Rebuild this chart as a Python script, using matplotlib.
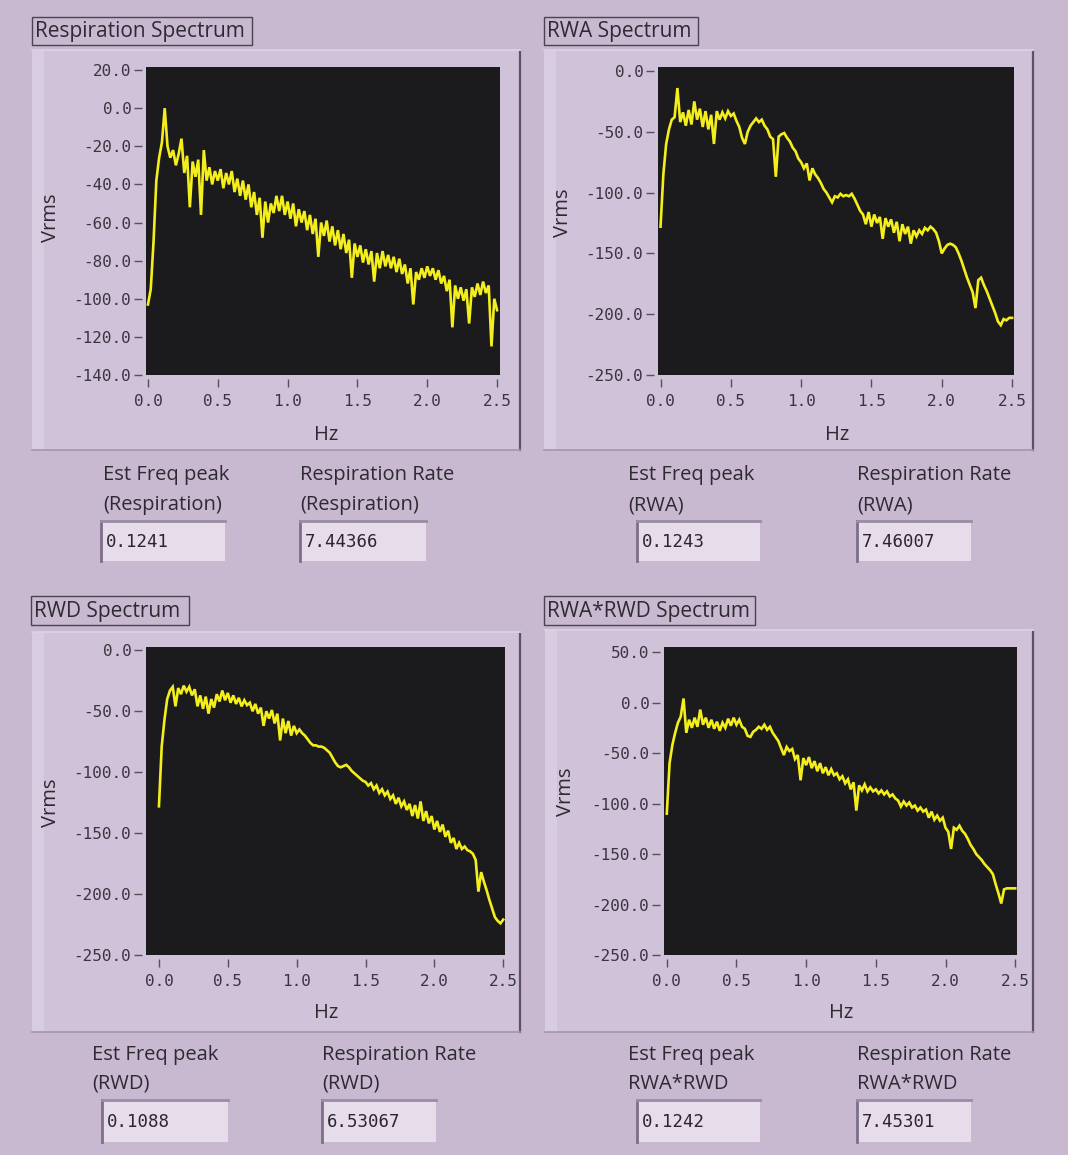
import numpy as np
import matplotlib.pyplot as plt
from matplotlib.patches import Rectangle

plt.rcParams['axes.unicode_minus'] = False
plt.rcParams['font.family'] = ['DejaVu Sans Mono']

W, H = 1068, 1155

# spectra, 0.02 Hz steps from 0 to 2.5 Hz (values in dB Vrms)
freq_hz = np.linspace(0.0, 2.5, 126)

resp_vrms = [
    -103, -95, -70, -38, -26, -18, 0, -20, -26, -22,
    -30, -24, -16, -34, -25, -52, -28, -36, -27, -56,
    -22, -38, -31, -40, -33, -38, -32, -42, -34, -40,
    -33, -44, -37, -46, -38, -48, -40, -52, -44, -56,
    -47, -68, -49, -60, -50, -55, -46, -54, -46, -56,
    -49, -58, -50, -62, -53, -60, -54, -64, -56, -66,
    -58, -78, -60, -67, -59, -70, -62, -72, -64, -74,
    -66, -76, -69, -89, -71, -78, -72, -81, -74, -82,
    -75, -91, -76, -84, -75, -83, -77, -84, -78, -86,
    -79, -87, -82, -92, -84, -103, -86, -90, -84, -89,
    -83, -88, -84, -90, -85, -92, -88, -96, -90, -115,
    -93, -100, -94, -101, -95, -113, -94, -99, -92, -98,
    -91, -97, -93, -125, -100, -106,
]

rwa_vrms = [
    -128, -85, -60, -48, -40, -38, -14, -42, -34, -45,
    -32, -44, -25, -40, -31, -46, -33, -48, -36, -60,
    -33, -40, -34, -39, -33, -37, -35, -41, -46, -55,
    -60, -50, -45, -42, -39, -42, -40, -45, -48, -54,
    -56, -87, -54, -52, -51, -55, -58, -63, -66, -72,
    -75, -80, -76, -90, -80, -85, -88, -92, -97, -100,
    -104, -108, -103, -104, -101, -103, -102, -103, -101, -105,
    -110, -115, -118, -126, -116, -128, -118, -125, -120, -138,
    -121, -128, -122, -133, -124, -140, -126, -134, -128, -142,
    -131, -136, -131, -134, -129, -131, -128, -130, -133, -140,
    -150, -146, -143, -142, -143, -145, -150, -156, -163, -170,
    -176, -182, -195, -172, -170, -176, -181, -187, -193, -199,
    -206, -209, -204, -205, -203, -203,
]

rwd_vrms = [
    -128, -79, -57, -40, -33, -30, -46, -31, -36, -29,
    -34, -30, -37, -32, -46, -37, -48, -38, -52, -40,
    -47, -36, -42, -33, -41, -35, -43, -37, -44, -39,
    -46, -41, -45, -43, -50, -44, -52, -47, -62, -50,
    -56, -49, -60, -52, -74, -56, -68, -58, -70, -62,
    -68, -65, -68, -70, -73, -76, -78, -78, -79, -79,
    -80, -82, -84, -88, -92, -95, -96, -95, -94, -96,
    -99, -101, -103, -105, -107, -108, -111, -109, -114, -111,
    -117, -114, -119, -116, -122, -119, -126, -121, -128, -124,
    -131, -126, -136, -127, -138, -124, -140, -132, -142, -136,
    -147, -140, -149, -143, -153, -148, -158, -154, -163, -158,
    -163, -161, -164, -165, -167, -172, -198, -182, -190, -197,
    -205, -212, -219, -222, -224, -221,
]

rwa_rwd_vrms = [
    -110, -60, -42, -30, -20, -14, 4, -30, -17, -25,
    -15, -24, -7, -22, -15, -25, -17, -26, -19, -28,
    -20, -25, -16, -23, -15, -22, -17, -24, -26, -33,
    -34, -29, -27, -24, -26, -22, -27, -24, -30, -34,
    -38, -45, -52, -44, -48, -46, -56, -52, -77, -55,
    -62, -54, -65, -58, -68, -60, -70, -64, -72, -66,
    -72, -70, -76, -73, -80, -76, -86, -79, -107, -82,
    -87, -81, -88, -84, -88, -86, -90, -87, -91, -88,
    -93, -91, -95, -97, -103, -98, -102, -99, -104, -102,
    -107, -104, -108, -106, -114, -108, -116, -112, -117, -114,
    -124, -128, -145, -124, -126, -122, -127, -130, -135, -141,
    -145, -150, -153, -156, -160, -163, -166, -170, -180, -189,
    -199, -185, -184, -184, -184, -184,
]

titles = ["Respiration Spectrum", "RWA Spectrum", "RWD Spectrum", "RWA*RWD Spectrum"]
series = [resp_vrms, rwa_vrms, rwd_vrms, rwa_rwd_vrms]
x_ticks = [0.0, 0.5, 1.0, 1.5, 2.0, 2.5]
y_ticks = [
    [20, 0, -20, -40, -60, -80, -100, -120, -140],
    [0, -50, -100, -150, -200, -250],
    [0, -50, -100, -150, -200, -250],
    [50, 0, -50, -100, -150, -200, -250],
]
source_names = ["(Respiration)", "(RWA)", "(RWD)", "RWA*RWD"]
est_freq_peak = ["0.1241", "0.1243", "0.1088", "0.1242"]
resp_rate = ["7.44366", "7.46007", "6.53067", "7.45301"]

# pixel layout of each LabVIEW panel
layout = [
    dict(frame=(32, 50, 520, 450), title=(32, 17, 252, 45), ax=(146, 67, 500, 375),
         xlim=(-0.014, 2.521), ylim=(-140, 21.6), vrms=(51, 218), hz=(326, 435),
         lab_x=(103, 300), lab_y=(475, 505), boxes=((101, 225), (300, 426)), box_y=(521, 561)),
    dict(frame=(544, 50, 1033, 450), title=(544, 17, 698, 45), ax=(658, 67, 1014, 375),
         xlim=(-0.018, 2.514), ylim=(-250, 3.3), vrms=(563, 213), hz=(837, 435),
         lab_x=(628, 857), lab_y=(475, 505), boxes=((637, 760), (857, 971)), box_y=(521, 561)),
    dict(frame=(32, 632, 520, 1032), title=(31, 596, 189, 625), ax=(146, 647, 505, 955),
         xlim=(-0.094, 2.513), ylim=(-250, 2.7), vrms=(51, 803), hz=(326, 1013),
         lab_x=(92, 322), lab_y=(1055, 1084), boxes=((102, 228), (322, 436)), box_y=(1100, 1142)),
    dict(frame=(545, 630, 1033, 1032), title=(544, 596, 755, 625), ax=(664, 647, 1017, 955),
         xlim=(-0.02, 2.513), ylim=(-250, 55), vrms=(566, 792), hz=(841, 1013),
         lab_x=(628, 857), lab_y=(1055, 1084), boxes=((637, 760), (857, 971)), box_y=(1100, 1142)),
]

BG = '#c8b8d0'
FRAME = '#d0c2d8'
TEXT = '#2e2a32'
YELLOW = '#f4ee1c'
SANS = 'Open Sans'
LABEL_SIZE = 14.5

fig = plt.figure(figsize=(W / 100, H / 100), dpi=100, facecolor=BG)


def fx(x):
    return x / W


def fy(y):
    return 1 - y / H


def rect_px(x0, y0, x1, y1, zorder=-2, **kw):
    fig.patches.append(Rectangle((fx(x0), fy(y1)), (x1 - x0) / W, (y1 - y0) / H,
                                 transform=fig.transFigure, zorder=zorder, **kw))


def line_px(xs, ys, zorder=-1, **kw):
    fig.add_artist(plt.Line2D([fx(v) for v in xs], [fy(v) for v in ys],
                              transform=fig.transFigure, zorder=zorder, **kw))


for i, lay in enumerate(layout):
    # raised frame
    x0, y0, x1, y1 = lay['frame']
    rect_px(x0, y0, x1, y1, facecolor=FRAME, edgecolor='none')
    rect_px(x0, y0, x0 + 12, y1, facecolor='#d8cde0', edgecolor='none')
    line_px([x1, x1], [y0 + 2, y1], color='#5e5068', lw=1.6)
    line_px([x0, x1], [y1, y1], color='#a495ad', lw=1.2)
    line_px([x0, x1], [y0, y0], color='#ddd3e3', lw=1.2)

    # caption box
    tx0, ty0, tx1, ty1 = lay['title']
    rect_px(tx0, ty0, tx1, ty1, facecolor='none', edgecolor='#4a4450', lw=1.0, zorder=1)
    fig.text(fx(tx0 + 3), fy((ty0 + ty1) / 2 + 1), titles[i], ha='left', va='center',
             fontsize=15, color=TEXT, family=SANS)

    # graph
    ax0, ay0, ax1, ay1 = lay['ax']
    ax = fig.add_axes([fx(ax0), fy(ay1), (ax1 - ax0) / W, (ay1 - ay0) / H])
    ax.set_zorder(2)
    ax.set_facecolor('#1b1b1d')
    ax.plot(freq_hz, series[i], color=YELLOW, lw=1.9, solid_joinstyle='miter')
    ax.set_xlim(*lay['xlim'])
    ax.set_ylim(*lay['ylim'])
    ax.set_xticks(x_ticks)
    ax.set_xticklabels([f"{v:.1f}" for v in x_ticks])
    ax.set_yticks(y_ticks[i])
    ax.set_yticklabels([f"{v:.1f}" for v in y_ticks[i]])
    ax.tick_params(direction='out', length=5.5, width=1, color='#55505a',
                   labelsize=11.5, labelcolor='#3a3640', pad=2)
    ax.tick_params(axis='x', pad=5)
    for side in ['top', 'right']:
        ax.spines[side].set_visible(False)
    for side in ['left', 'bottom']:
        ax.spines[side].set_position(('outward', 3))
        ax.spines[side].set_visible(False)

    fig.text(fx(lay['vrms'][0]), fy(lay['vrms'][1]), 'Vrms', rotation=90,
             ha='center', va='center', fontsize=LABEL_SIZE, color=TEXT, family=SANS)
    fig.text(fx(lay['hz'][0]), fy(lay['hz'][1]), 'Hz',
             ha='center', va='center', fontsize=LABEL_SIZE, color=TEXT, family=SANS)

    # indicators under the graph
    lx1, lx2 = lay['lab_x']
    ly1, ly2 = lay['lab_y']
    fig.text(fx(lx1), fy(ly1), 'Est Freq peak', ha='left', va='center',
             fontsize=LABEL_SIZE, color=TEXT, family=SANS)
    fig.text(fx(lx1), fy(ly2), source_names[i], ha='left', va='center',
             fontsize=LABEL_SIZE, color=TEXT, family=SANS)
    fig.text(fx(lx2), fy(ly1), 'Respiration Rate', ha='left', va='center',
             fontsize=LABEL_SIZE, color=TEXT, family=SANS)
    fig.text(fx(lx2), fy(ly2), source_names[i], ha='left', va='center',
             fontsize=LABEL_SIZE, color=TEXT, family=SANS)

    by0, by1 = lay['box_y']
    for (bx0, bx1), val in zip(lay['boxes'], [est_freq_peak[i], resp_rate[i]]):
        rect_px(bx0, by0, bx1, by1, facecolor='#e6dcea', edgecolor='none', zorder=-1)
        line_px([bx0, bx0], [by0, by1], color='#7d6f88', lw=2, zorder=0)
        line_px([bx0, bx1], [by0, by0], color='#9a8ca4', lw=2, zorder=0)
        fig.text(fx(bx0 + 5), fy((by0 + by1) / 2 + 1), val, ha='left', va='center',
                 fontsize=12.5, color='#2a2630')

fig.savefig('out.png', dpi=100, facecolor=BG)
